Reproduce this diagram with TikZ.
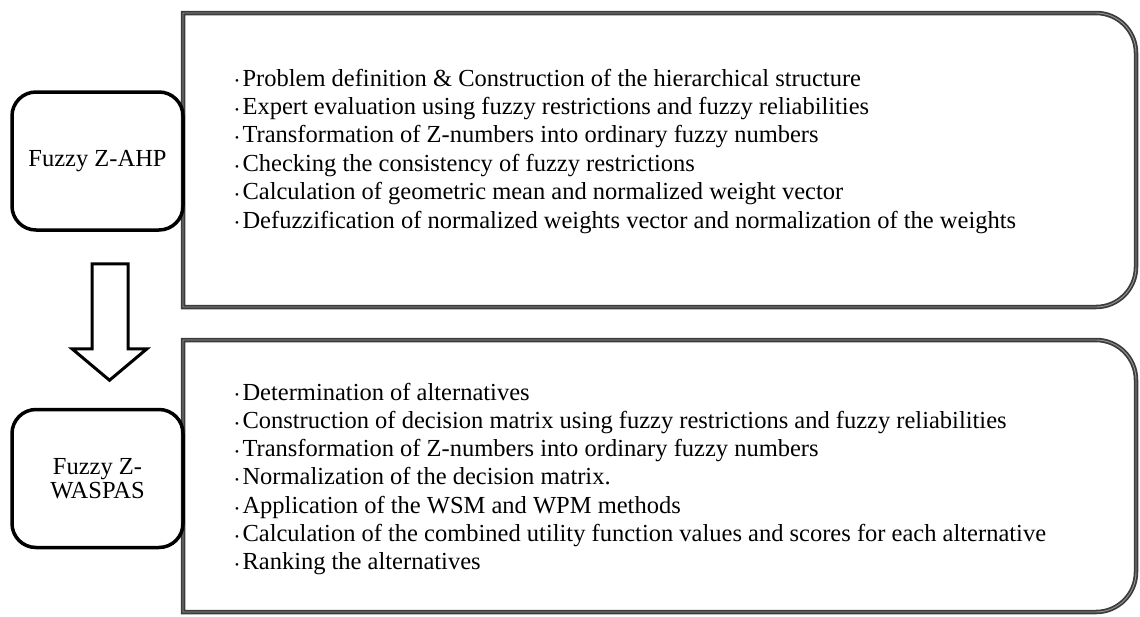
\documentclass[tikz,border=0pt]{standalone}
\usepackage{fontspec}
\usetikzlibrary{calc}
\setmainfont{Liberation Serif}
\newcommand{\bul}{\raisebox{1.2pt}{\fontsize{11}{11}\selectfont\textbullet}\hspace{3.5pt}}
\tikzset{
  stagebox/.style={draw=black, line width=3.5pt, rounded corners=24pt, minimum width=171pt, minimum height=138pt, align=center, font=\fontsize{24.5}{23.5}\selectfont, inner sep=0pt},
  bigbox/.style={draw={rgb,255:red,60;green,60;blue,60}, line width=1.8pt, double={rgb,255:red,150;green,150;blue,150}, double distance=0.9pt},
  item/.style={anchor=base west, inner sep=0pt, font=\fontsize{24.5}{28}\selectfont},
  blockarrow/.style={draw=black, line width=3pt, fill=white, line join=miter}
}
\begin{document}
\begin{tikzpicture}[x=1pt,y=-1pt]
  \useasboundingbox (0,0) rectangle (1140,616);
  % right hand boxes
  \draw [bigbox] (183,13) -- (1096,13) arc (-90:0:40) -- (1136,267) arc (0:90:40) -- (183,307) -- cycle;
  \draw [bigbox] (183,340) -- (1096,340) arc (-90:0:40) -- (1136,572) arc (0:90:40) -- (183,612) -- cycle;
  % steps of the first stage
  \foreach \t [count=\i] in {Problem definition \& Construction of the hierarchical structure,
      Expert evaluation using fuzzy restrictions and fuzzy reliabilities,
      Transformation of Z-numbers into ordinary fuzzy numbers,
      Checking the consistency of fuzzy restrictions,
      Calculation of geometric mean and normalized weight vector,
      Defuzzification of normalized weights vector and normalization of the weights}
    \node [item] (a\i) at (235,{86+28.4*(\i-1)}) {\bul\t};
  % steps of the second stage
  \foreach \t [count=\i] in {Determination of alternatives,
      Construction of decision matrix using fuzzy restrictions and fuzzy reliabilities,
      Transformation of Z-numbers into ordinary fuzzy numbers,
      Normalization of the decision matrix.,
      Application of the WSM and WPM methods,
      Calculation of the combined utility function values and scores for each alternative,
      Ranking the alternatives}
    \node [item] (b\i) at (235,{400+28.33*(\i-1)}) {\bul\t};
  % left hand stages
  \node [stagebox] (ahp) at (97.5,161) {Fuzzy Z-AHP};
  \node [stagebox] (waspas) at (97.5,478.5) {Fuzzy Z-\\WASPAS};
  \draw [blockarrow] ($(ahp.south)+(-5.5,32)$) -- ($(ahp.south)+(30.5,32)$)
    -- ($(ahp.south)+(30.5,117)$) -- ($(ahp.south)+(49.5,117)$)
    -- ($(waspas.north)+(12,-27.5)$)
    -- ($(ahp.south)+(-25.5,117)$) -- ($(ahp.south)+(-5.5,117)$) -- cycle;
\end{tikzpicture}
\end{document}
